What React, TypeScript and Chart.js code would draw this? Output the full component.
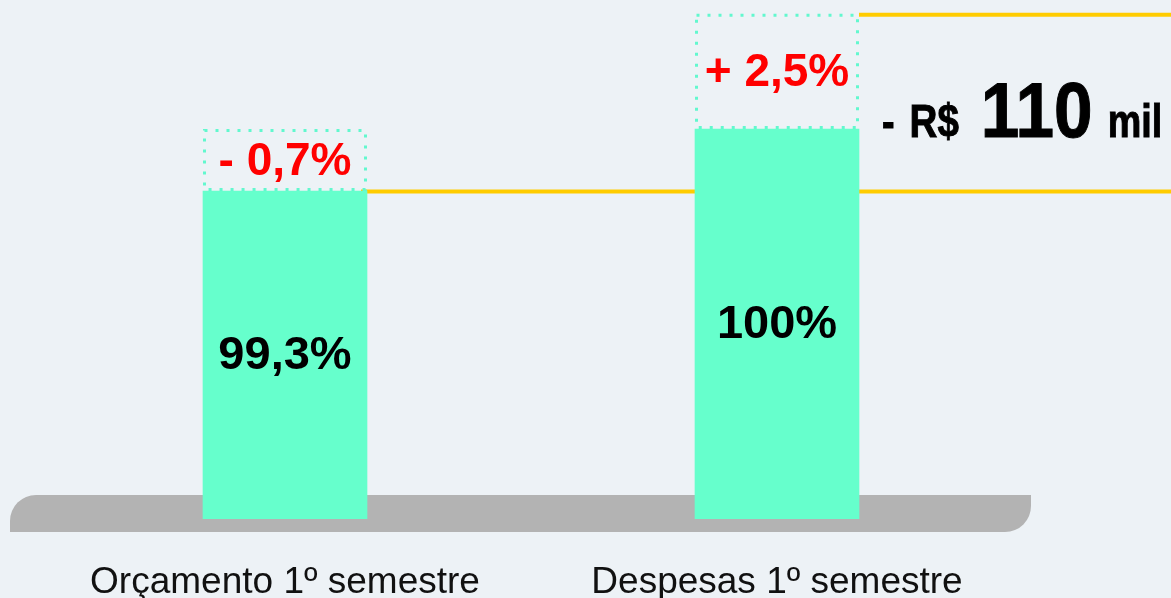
import React, { useEffect, useRef } from "react";
import { Chart, registerables } from "chart.js";

Chart.register(...registerables);

const categories = ["Orçamento 1º semestre", "Despesas 1º semestre"];
const baseValues = [99.3, 100];
const deltaValues = [0.7, 1.3];
const baseLabels = ["99,3%", "100%"];
const deltaLabels = ["- 0,7%", "+ 2,5%"];
const calloutParts = ["-", "R$", "110", "mil"];

const BG = "#EDF2F6";
const GREEN = "#66FFCC";
const DOT = "#62F8CE";
const RED = "#FF0000";
const YELLOW = "#FFCC00";
const GRAY = "#B3B3B3";

const decorPlugin = {
  id: "decor",
  beforeDraw(chart: any) {
    const { ctx, width, height, chartArea } = chart;
    ctx.save();
    ctx.fillStyle = BG;
    ctx.fillRect(0, 0, width, height);
    const l = chartArea.left - 29;
    const r = chartArea.right + 8;
    const t = chartArea.bottom - 24;
    const b = chartArea.bottom + 13;
    const rad = 26;
    ctx.fillStyle = GRAY;
    ctx.beginPath();
    ctx.moveTo(l, b);
    ctx.lineTo(l, t + rad);
    ctx.arcTo(l, t, l + rad, t, rad);
    ctx.lineTo(r, t);
    ctx.lineTo(r, b - rad);
    ctx.arcTo(r, b, r - rad, b, rad);
    ctx.lineTo(l, b);
    ctx.closePath();
    ctx.fill();
    ctx.restore();
  },
  beforeDatasetsDraw(chart: any) {
    const { ctx, width } = chart;
    const base = chart.getDatasetMeta(0).data;
    const delta = chart.getDatasetMeta(1).data;
    ctx.save();
    ctx.strokeStyle = YELLOW;
    ctx.lineWidth = 4;
    const b0 = base[0];
    ctx.beginPath();
    ctx.moveTo(b0.x + b0.width / 2 - 6, b0.y + 0.5);
    ctx.lineTo(width, b0.y + 0.5);
    ctx.stroke();
    const d1 = delta[1];
    ctx.beginPath();
    ctx.moveTo(d1.x + d1.width / 2, d1.y + 1);
    ctx.lineTo(width, d1.y + 1);
    ctx.stroke();
    ctx.restore();
  },
  afterDatasetsDraw(chart: any) {
    const { ctx, chartArea } = chart;
    const base = chart.getDatasetMeta(0).data;
    const delta = chart.getDatasetMeta(1).data;
    ctx.save();
    ctx.strokeStyle = DOT;
    ctx.lineWidth = 3;
    ctx.setLineDash([3, 8]);
    delta.forEach((el: any) => {
      const x0 = el.x - el.width / 2 + 1.5;
      const x1 = el.x + el.width / 2 - 1.5;
      const y0 = el.y + 1.5;
      const y1 = el.base - 1.5;
      ctx.strokeRect(x0, y0, x1 - x0, y1 - y0);
    });
    ctx.setLineDash([]);
    ctx.textAlign = "center";
    ctx.textBaseline = "middle";
    ctx.fillStyle = "#000";
    ctx.font = "bold 47px 'Liberation Sans', Arial, sans-serif";
    base.forEach((el: any, i: number) => {
      const bottom = Math.min(el.base, chartArea.bottom);
      ctx.fillText(baseLabels[i], el.x, (el.y + bottom) / 2 + 1);
    });
    ctx.fillStyle = RED;
    ctx.font = "bold 46px 'Liberation Sans', Arial, sans-serif";
    delta.forEach((el: any, i: number) => {
      ctx.fillText(deltaLabels[i], el.x, (el.y + el.base) / 2 + 2);
    });
    // callout (narrow bold)
    const b0 = base[0];
    const d1 = delta[1];
    const baseline = b0.y - 54;
    let x = d1.x + d1.width / 2 + 23;
    const sizes = [46, 47, 77, 46];
    const scales = [0.82, 0.82, 0.9, 0.82];
    const gaps = [15, 22, 15];
    ctx.fillStyle = "#000";
    ctx.strokeStyle = "#000";
    ctx.lineWidth = 1;
    ctx.textAlign = "left";
    ctx.textBaseline = "alphabetic";
    calloutParts.forEach((p, i) => {
      ctx.font = `bold ${sizes[i]}px 'Liberation Sans', Arial, sans-serif`;
      const sx = scales[i];
      ctx.save();
      ctx.translate(x, baseline);
      ctx.scale(sx, 1);
      ctx.fillText(p, 0, 0);
      ctx.strokeText(p, 0, 0);
      ctx.restore();
      x += ctx.measureText(p).width * sx + (gaps[i] || 0);
    });
    ctx.restore();
  },
};

export default function App() {
  const ref = useRef<HTMLCanvasElement | null>(null);
  useEffect(() => {
    if (!ref.current) return;
    const chart = new Chart(ref.current, {
      type: "bar",
      data: {
        labels: categories,
        datasets: [
          {
            label: "base",
            data: baseValues,
            backgroundColor: GREEN,
            borderWidth: 0,
            barThickness: 164,
          },
          {
            label: "delta",
            data: deltaValues,
            backgroundColor: "rgba(0,0,0,0)",
            borderWidth: 0,
            barThickness: 164,
          },
        ],
      },
      options: {
        animation: false,
        responsive: true,
        maintainAspectRatio: false,
        layout: { padding: { left: 39, right: 148, top: 0, bottom: 0 } },
        plugins: {
          legend: { display: false },
          tooltip: { enabled: false },
        },
        scales: {
          x: {
            stacked: true,
            grid: { display: false, drawTicks: false },
            border: { display: false },
            afterFit(scale: any) {
              scale.height = 79;
            },
            ticks: {
              color: "#111",
              padding: 42,
              maxRotation: 0,
              font: { family: "'Liberation Sans', Arial, sans-serif", size: 37, lineHeight: 1.2 },
            },
          },
          y: {
            stacked: true,
            display: false,
            min: 95.6,
            max: 101.455,
          },
        },
      },
      plugins: [decorPlugin],
    });
    return () => chart.destroy();
  }, []);
  return (
    <div style={{ position: "fixed", left: 0, top: 0, width: 1171, height: 598, background: BG }}>
      <canvas ref={ref} />
    </div>
  );
}
